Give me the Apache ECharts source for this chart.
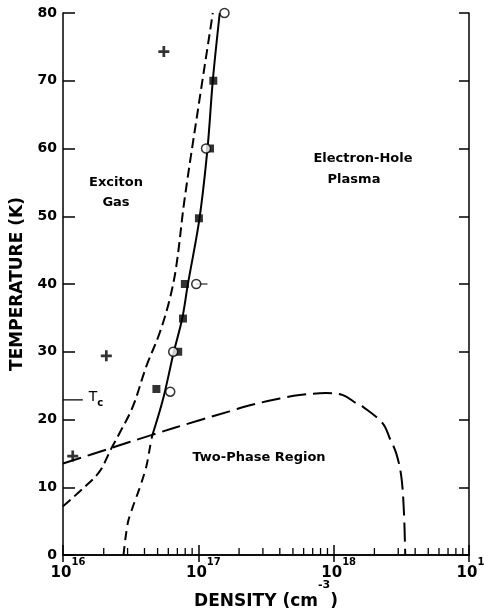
<!DOCTYPE html>
<html>
<head>
<meta charset="utf-8">
<script src="https://cdn.jsdelivr.net/npm/echarts@6/dist/echarts.min.js"></script>
<style>
  html, body { margin: 0; padding: 0; background: #fff; }
  #chart { width: 484px; height: 611px; }
</style>
</head>
<body>
<div id="chart"></div>
<script>
// Phase diagram: exciton gas / electron-hole plasma
// x = density (cm^-3, log scale), y = temperature (K)

// solid phase boundary (upper part, above the two-phase dome)
const solidCurve = [
  [4.56e16, 17.6], [5.47e16, 22.9], [6.56e16, 29.8], [7.6e16, 34.9],
  [8.36e16, 39.9], [1.02e17, 49.7], [1.17e17, 60.1], [1.28e17, 70.1], [1.44e17, 80]
];
// short-dashed continuation below the dome
const lowerDashed = [
  [2.8e16, 0], [3.01e16, 4.7], [3.28e16, 7.1], [3.67e16, 9.8],
  [4.12e16, 13], [4.4e16, 16], [4.56e16, 17.6]
];
// dashed exciton boundary on the left
const excitonEdge = [
  [1e16, 7.2], [1.4e16, 9.8], [1.86e16, 12.3], [2.27e16, 15.7], [2.62e16, 18],
  [3.28e16, 21.9], [4.12e16, 27.8], [5.16e16, 32.7], [6.12e16, 37.6],
  [6.87e16, 42.6], [7.9e16, 52.4], [1.02e17, 67.2], [1.28e17, 80]
];
// long-dashed two-phase dome
const twoPhase = [
  [1e16, 13.5], [2.2e16, 15.7], [4.49e16, 17.7], [1.02e17, 19.9], [1.7e17, 21.2],
  [2.4e17, 22.1], [4e17, 23.1], [5.6e17, 23.6], [8.8e17, 23.9], [1.17e18, 23.6],
  [1.47e18, 22.4], [1.64e18, 21.9], [2.31e18, 19.4], [2.6e18, 17.2],
  [2.9e18, 15], [3.16e18, 11.6], [3.3e18, 6.6], [3.38e18, 0]
];
const filledSquares = [
  [1.29e17, 70], [1.22e17, 60], [1.01e17, 49.7], [7.95e16, 40],
  [7.7e16, 34.9], [7.1e16, 30], [4.9e16, 24.5]
];
const openCircles = [
  [1.56e17, 80], [1.14e17, 60], [9.65e16, 40], [6.52e16, 30], [6.2e16, 24.1]
];
const circleErrorBar = [[9.65e16, 40], [1.17e17, 40]];
const crosses = [[5.56e16, 74.3], [2.09e16, 29.4], [1.18e16, 14.6]];
const tcLine = [[1e16, 22.9], [1.4e16, 22.9]];
const minorTicks = [
  2e16, 3e16, 4e16, 5e16, 6e16, 7e16, 8e16, 9e16,
  2e17, 3e17, 4e17, 5e17, 6e17, 7e17, 8e17, 9e17,
  2e18, 3e18, 4e18, 5e18, 6e18, 7e18, 8e18, 9e18
];

const FONT = 'DejaVu Sans';
const black = '#000';

const chart = echarts.init(document.getElementById('chart'));

const lineSeries = (data, type, width) => ({
  type: 'line',
  data,
  symbol: 'none',
  smooth: 0.35,
  silent: true,
  z: 2,
  lineStyle: { color: black, width, type }
});

const regionText = (text, x, y) => ({
  type: 'text',
  x,
  y,
  style: {
    text,
    fontFamily: FONT,
    fontSize: 13,
    fontWeight: 'bold',
    fill: black,
    align: 'center',
    verticalAlign: 'middle'
  }
});

const option = {
  animation: false,
  backgroundColor: '#fff',
  grid: { left: 63, right: 15, top: 13, bottom: 56, outerBoundsMode: 'none', containLabel: false },
  xAxis: [{
    type: 'log',
    logBase: 10,
    min: 1e16,
    max: 1e19,
    interval: 1,
    position: 'bottom',
    axisLine: { show: true, lineStyle: { color: black, width: 1.5 } },
    axisTick: { show: true, inside: true, length: 10, lineStyle: { color: black, width: 1.5 } },
    splitLine: { show: false },
    axisLabel: {
      show: true,
      margin: 2,
      padding: [0, 0, 0, 10],
      showMinLabel: true,
      showMaxLabel: true,
      formatter: v => '{b|10}{s|' + Math.round(Math.log10(v)) + '}',
      rich: {
        b: { fontFamily: FONT, fontSize: 15, fontWeight: 'bold', color: black, lineHeight: 24, verticalAlign: 'bottom' },
        s: { fontFamily: FONT, fontSize: 10, fontWeight: 'bold', color: black, lineHeight: 8, verticalAlign: 'top' }
      }
    },
    name: '{t|DENSITY (cm}{s|-3}{t|)}',
    nameLocation: 'middle',
    nameGap: 25,
    nameMoveOverlap: false,
    nameTextStyle: {
      rich: {
        t: { fontFamily: FONT, fontSize: 17, fontWeight: 'bold', color: black, lineHeight: 30, verticalAlign: 'bottom' },
        s: { fontFamily: FONT, fontSize: 11, fontWeight: 'bold', color: black, lineHeight: 6, verticalAlign: 'top' }
      }
    }
  }, {
    type: 'log',
    logBase: 10,
    min: 1e16,
    max: 1e19,
    interval: 1,
    position: 'top',
    axisLine: { show: true, lineStyle: { color: black, width: 1.5 } },
    axisTick: { show: true, inside: true, length: 7, lineStyle: { color: black, width: 1.5 } },
    axisLabel: { show: false },
    splitLine: { show: false }
  }],
  yAxis: [{
    type: 'value',
    min: 0,
    max: 80,
    interval: 10,
    axisLine: { show: true, lineStyle: { color: black, width: 1.5 } },
    axisTick: { show: true, inside: true, length: 12, lineStyle: { color: black, width: 1.5 } },
    splitLine: { show: false },
    axisLabel: { margin: 6, fontFamily: FONT, fontSize: 14, fontWeight: 'bold', color: black },
    name: 'TEMPERATURE (K)',
    nameLocation: 'middle',
    nameGap: 37,
    nameMoveOverlap: false,
    nameTextStyle: { fontFamily: FONT, fontSize: 17, fontWeight: 'bold', color: black }
  }, {
    type: 'value',
    min: 0,
    max: 80,
    interval: 10,
    position: 'right',
    axisLine: { show: true, lineStyle: { color: black, width: 1.5 } },
    axisTick: { show: true, inside: true, length: 10, lineStyle: { color: black, width: 1.5 } },
    axisLabel: { show: false },
    splitLine: { show: false }
  }],
  series: [
    lineSeries(solidCurve, 'solid', 2),
    lineSeries(lowerDashed, [9, 6], 2),
    lineSeries(excitonEdge, [10, 5], 2),
    lineSeries(twoPhase, [19, 7], 2),
    {
      type: 'line',
      data: tcLine,
      symbol: 'none',
      silent: true,
      lineStyle: { color: black, width: 1.2 },
      endLabel: {
        show: true,
        distance: 6,
        formatter: '{t|T}{c|c}',
        rich: {
          t: { fontFamily: FONT, fontSize: 14, color: black, lineHeight: 18, verticalAlign: 'top' },
          c: { fontFamily: FONT, fontSize: 10, fontWeight: 'bold', color: black, lineHeight: 12, verticalAlign: 'bottom' }
        }
      }
    },
    lineSeries(circleErrorBar, 'solid', 1.2),
    {
      type: 'scatter',
      data: filledSquares,
      symbol: 'rect',
      symbolSize: 8,
      z: 4,
      itemStyle: { color: black }
    },
    {
      type: 'scatter',
      data: openCircles,
      symbol: 'circle',
      symbolSize: 9,
      z: 5,
      itemStyle: { color: '#fff', borderColor: black, borderWidth: 1.5 }
    },
    {
      type: 'scatter',
      data: crosses,
      symbol: 'path://M4,0h2.6v4h4v2.6h-4v4h-2.6v-4h-4v-2.6h4z',
      symbolSize: 11,
      z: 4,
      itemStyle: { color: black }
    },
    {
      // minor log ticks along the bottom axis
      type: 'custom',
      data: minorTicks.map(v => [v, 0]),
      silent: true,
      z: 3,
      renderItem: (params, api) => {
        const p = api.coord([api.value(0), 0]);
        return {
          type: 'line',
          shape: { x1: p[0], y1: p[1], x2: p[0], y2: p[1] - 7 },
          style: { stroke: black, lineWidth: 1.3 }
        };
      }
    }
  ],
  graphic: [
    regionText('Exciton', 116, 183),
    regionText('Gas', 116, 203),
    regionText('Electron-Hole', 363, 159),
    regionText('Plasma', 354, 180),
    regionText('Two-Phase Region', 259, 458)
  ]
};

chart.setOption(option);
</script>
</body>
</html>
